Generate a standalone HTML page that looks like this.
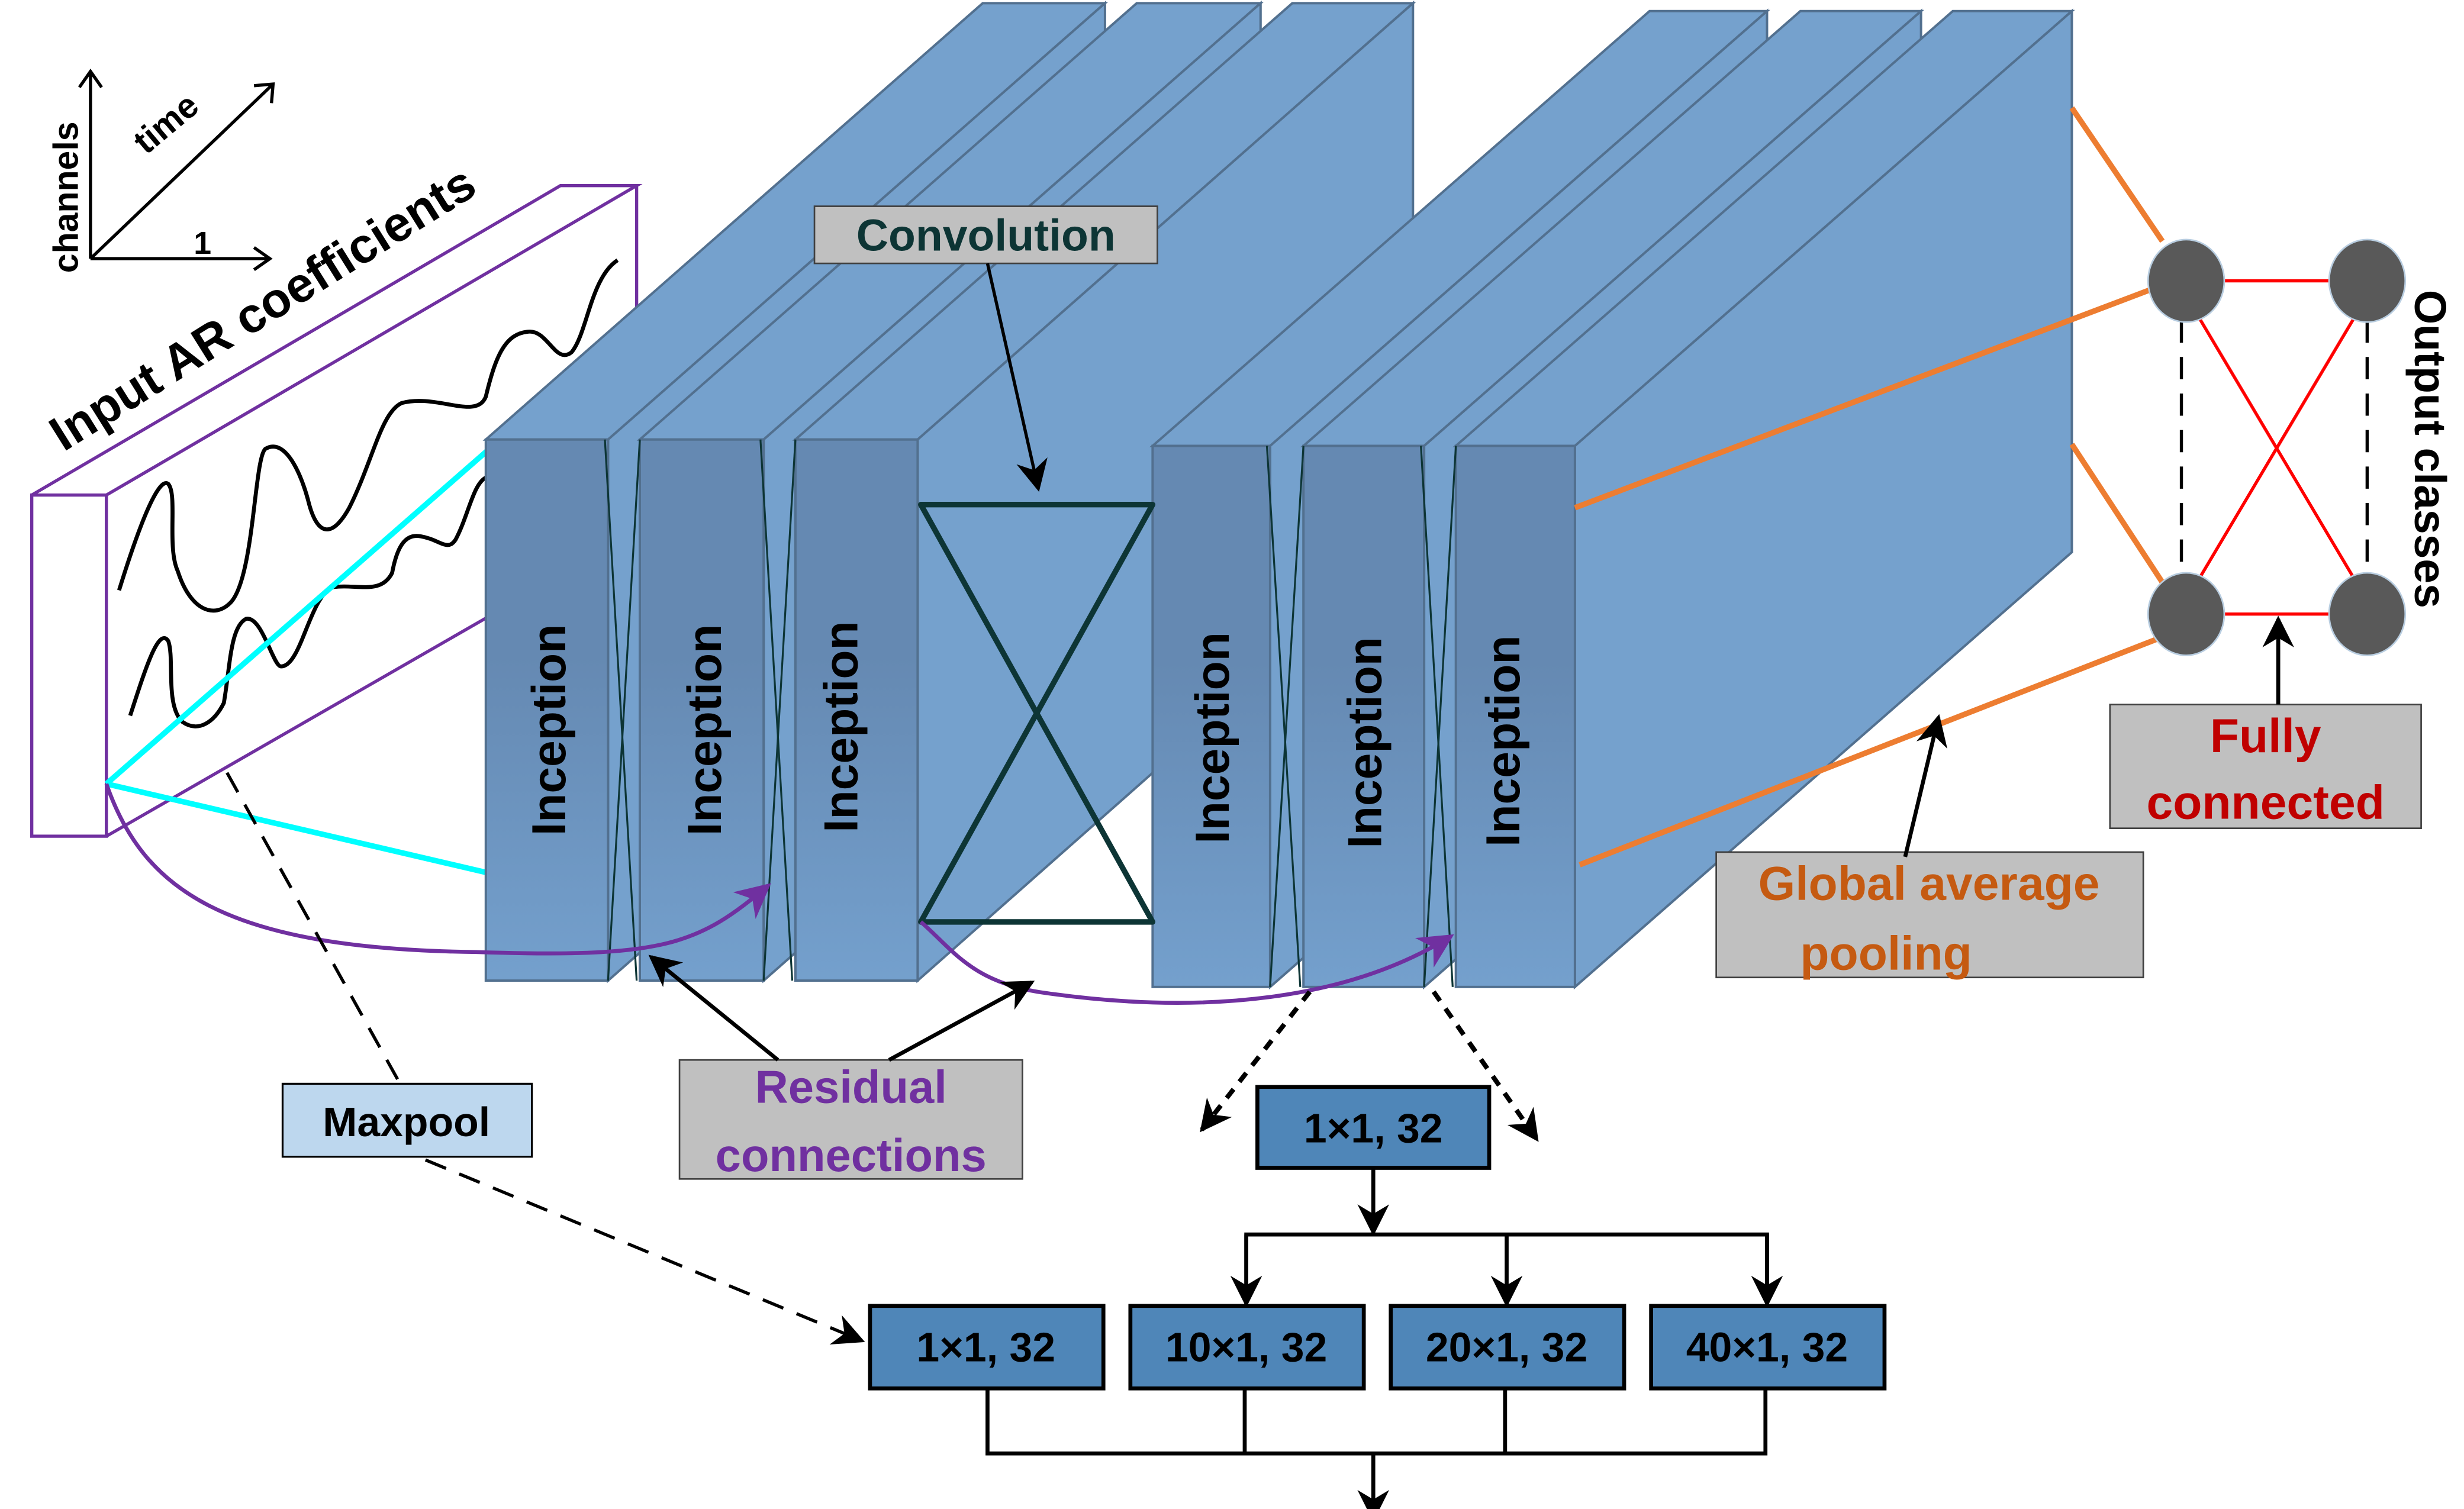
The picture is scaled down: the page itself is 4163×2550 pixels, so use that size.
<!DOCTYPE html>
<html><head><meta charset="utf-8"><style>
html,body{margin:0;padding:0;background:#fff;}
svg{display:block;}
text{font-family:"Liberation Sans Narrow","Liberation Sans",sans-serif;font-weight:bold;}
</style></head><body>
<svg width="4163" height="2550" viewBox="0 0 1552 951" preserveAspectRatio="none" xmlns="http://www.w3.org/2000/svg">
<defs>
<linearGradient id="fg" x1="0" y1="0" x2="0" y2="1">
<stop offset="0" stop-color="#6589b2"/><stop offset="0.4" stop-color="#6589b2"/><stop offset="1" stop-color="#74a0cd"/></linearGradient>
<marker id="ah" viewBox="0 0 10 10" refX="9" refY="5" markerWidth="7" markerHeight="7" orient="auto" markerUnits="userSpaceOnUse"><path d="M0,0 L10,5 L0,10 L3,5 z" fill="#000"/></marker>
<marker id="ahb" viewBox="0 0 10 10" refX="9" refY="5" markerWidth="22" markerHeight="20" orient="auto" markerUnits="userSpaceOnUse"><path d="M0,0 L10,5 L0,10 L3,5 z" fill="#000"/></marker>
<marker id="ahp" viewBox="0 0 10 10" refX="9" refY="5" markerWidth="26" markerHeight="22" orient="auto" markerUnits="userSpaceOnUse"><path d="M0,0 L10,5 L0,10 L3,5 z" fill="#7030a0"/></marker>
</defs>

<!-- axes -->
<g stroke="#000" stroke-width="2" fill="none">
<line x1="57" y1="163" x2="57" y2="45"/><polyline points="50,55 57,45 64,55"/>
<line x1="57" y1="163" x2="170" y2="163"/><polyline points="160,156 170,163 160,170"/>
<line x1="57" y1="163" x2="172" y2="53"/><polyline points="160,54 172,53 171,65"/>
</g>
<text transform="translate(49,172) rotate(-90)" font-size="22" font-weight="normal">channels</text>
<text transform="translate(92,98) rotate(-40)" font-size="22">time</text>
<text x="122" y="160" font-size="20" font-weight="normal">1</text>

<!-- input box -->
<g stroke="#7030a0" stroke-width="2" fill="none">
<polygon points="20,312 67,312 67,527 20,527"/>
<polyline points="20,312 353,117 401,117 67,312"/>
<line x1="401" y1="117" x2="401" y2="200"/>
<line x1="67" y1="527" x2="307" y2="389"/>
</g>
<text transform="translate(40,285) rotate(-32)" font-size="31">Input AR coefficients</text>
<g stroke="#000" stroke-width="2.5" fill="none">
<path d="M75,372 C88,330 100,300 106,305 C112,312 105,345 112,360 C120,385 135,390 145,380 C160,365 160,290 167,283 C180,275 190,300 194,315 C200,340 210,338 220,320 C235,290 240,260 253,254 C275,248 300,265 306,250 C312,225 318,210 333,209 C345,208 350,230 360,222 C370,210 372,175 389,164"/>
<path d="M82,451 C92,420 100,395 106,404 C110,415 104,445 115,455 C125,462 135,455 141,443 C145,420 145,395 155,390 C165,388 172,420 177,420 C190,420 195,375 210,370 C225,368 240,375 247,361 C250,345 255,336 265,338 C277,340 282,348 287,340 C295,325 298,305 306,301"/>
</g>
<line x1="67" y1="494" x2="307" y2="284" stroke="#00ffff" stroke-width="3.5"/>
<line x1="67" y1="494" x2="307" y2="550" stroke="#00ffff" stroke-width="3.5"/>

<!-- slabs group 1 -->
<g stroke="#52708f" stroke-width="1.5">
<polygon points="306,277 619,2 696,2 383,277" fill="#75a1cd"/>
<polygon points="383,277 696,2 696,342 383,618" fill="#75a1cd"/>
<rect x="306" y="277" width="77" height="341" fill="url(#fg)"/>
<polygon points="403,277 716,2 794,2 481,277" fill="#75a1cd"/>
<polygon points="481,277 794,2 794,342 481,618" fill="#75a1cd"/>
<rect x="403" y="277" width="78" height="341" fill="url(#fg)"/>
<polygon points="501,277 814,2 890,2 578,277" fill="#75a1cd"/>
<polygon points="578,277 890,2 890,342 578,618" fill="#75a1cd"/>
<rect x="501" y="277" width="77" height="341" fill="url(#fg)"/>
</g>
<!-- slabs group 2 -->
<g stroke="#52708f" stroke-width="1.5">
<polygon points="726,281 1039,7 1113,7 800,281" fill="#75a1cd"/>
<polygon points="800,281 1113,7 1113,348 800,622" fill="#75a1cd"/>
<rect x="726" y="281" width="74" height="341" fill="url(#fg)"/>
<polygon points="821,281 1134,7 1210,7 897,281" fill="#75a1cd"/>
<polygon points="897,281 1210,7 1210,348 897,622" fill="#75a1cd"/>
<rect x="821" y="281" width="76" height="341" fill="url(#fg)"/>
<polygon points="917,281 1230,7 1305,7 992,281" fill="#75a1cd"/>
<polygon points="992,281 1305,7 1305,348 992,622" fill="#75a1cd"/>
<rect x="917" y="281" width="75" height="341" fill="url(#fg)"/>
</g>
<!-- X lines between slabs -->
<g stroke="#0d3535" stroke-width="1.2">
<line x1="381" y1="277" x2="401" y2="618"/><line x1="403" y1="277" x2="383" y2="618"/>
<line x1="479" y1="277" x2="499" y2="618"/><line x1="501" y1="277" x2="481" y2="618"/>
<line x1="798" y1="281" x2="819" y2="622"/><line x1="821" y1="281" x2="800" y2="622"/>
<line x1="895" y1="281" x2="915" y2="622"/><line x1="917" y1="281" x2="897" y2="622"/>
</g>
<g font-size="30" fill="#000">
<text transform="translate(356,460) rotate(-90)" text-anchor="middle">Inception</text>
<text transform="translate(454,460) rotate(-90)" text-anchor="middle">Inception</text>
<text transform="translate(540,458) rotate(-90)" text-anchor="middle">Inception</text>
<text transform="translate(774,465) rotate(-90)" text-anchor="middle">Inception</text>
<text transform="translate(870,468) rotate(-90)" text-anchor="middle">Inception</text>
<text transform="translate(957,467) rotate(-90)" text-anchor="middle">Inception</text>
</g>
<!-- hourglass -->
<g stroke="#0d3535" stroke-width="3.5" fill="none" stroke-linejoin="round">
<polygon points="580,318 726,318 580,581 726,581"/>
</g>

<!-- convolution label -->
<rect x="513" y="130" width="216" height="36" fill="#c0c0c0" stroke="#404040" stroke-width="1"/>
<text x="621" y="158" font-size="28" fill="#0d3535" text-anchor="middle">Convolution</text>
<line x1="622" y1="166" x2="654" y2="308" stroke="#000" stroke-width="2" marker-end="url(#ahb)"/>

<!-- purple residual curves -->
<path d="M67,494 C90,560 140,598 300,600 C420,604 440,595 484,558" stroke="#7030a0" stroke-width="2.5" fill="none" marker-end="url(#ahp)"/>
<path d="M580,581 C600,598 612,620 660,626 C760,640 850,630 914,590" stroke="#7030a0" stroke-width="2.5" fill="none" marker-end="url(#ahp)"/>

<!-- maxpool -->
<line x1="143" y1="487" x2="252" y2="683" stroke="#000" stroke-width="2" stroke-dasharray="14,9"/>
<line x1="268" y1="731" x2="543" y2="845" stroke="#000" stroke-width="2" stroke-dasharray="14,9" marker-end="url(#ahb)"/>
<rect x="178" y="683" width="157" height="46" fill="#bdd7ee" stroke="#000" stroke-width="1.2"/>
<text x="256" y="716" font-size="26" text-anchor="middle">Maxpool</text>

<!-- residual label -->
<rect x="428" y="668" width="216" height="75" fill="#c0c0c0" stroke="#404040" stroke-width="1"/>
<text x="536" y="695" font-size="29" fill="#7030a0" text-anchor="middle">Residual</text>
<text x="536" y="738" font-size="29" fill="#7030a0" text-anchor="middle">connections</text>
<line x1="490" y1="668" x2="410" y2="603" stroke="#000" stroke-width="2.5" marker-end="url(#ahb)"/>
<line x1="560" y1="668" x2="650" y2="619" stroke="#000" stroke-width="2.5" marker-end="url(#ahb)"/>

<!-- dotted arrows to inception detail -->
<line x1="825" y1="625" x2="757" y2="712" stroke="#000" stroke-width="3" stroke-dasharray="7,6" marker-end="url(#ahb)"/>
<line x1="903" y1="625" x2="968" y2="718" stroke="#000" stroke-width="3" stroke-dasharray="7,6" marker-end="url(#ahb)"/>

<!-- inception module detail -->
<g fill="#4f86b8" stroke="#000" stroke-width="2.5">
<rect x="792" y="685" width="146" height="51"/>
<rect x="548" y="823" width="147" height="52"/>
<rect x="712" y="823" width="147" height="52"/>
<rect x="876" y="823" width="147" height="52"/>
<rect x="1040" y="823" width="147" height="52"/>
</g>
<g font-size="26" text-anchor="middle" fill="#000">
<text x="865" y="720">1×1, 32</text>
<text x="621" y="858">1×1, 32</text>
<text x="785" y="858">10×1, 32</text>
<text x="949" y="858">20×1, 32</text>
<text x="1113" y="858">40×1, 32</text>
</g>
<g stroke="#000" stroke-width="2.5" fill="none">
<line x1="865" y1="736" x2="865" y2="777" marker-end="url(#ahb)"/>
<polyline points="785,820 785,778 1113,778 1113,820"/>
<line x1="785" y1="778" x2="785" y2="822" marker-end="url(#ahb)"/>
<line x1="949" y1="778" x2="949" y2="822" marker-end="url(#ahb)"/>
<line x1="1113" y1="778" x2="1113" y2="822" marker-end="url(#ahb)"/>
<polyline points="622,875 622,916 1112,916 1112,875"/>
<line x1="784" y1="875" x2="784" y2="916"/>
<line x1="948" y1="875" x2="948" y2="916"/>
<line x1="865" y1="916" x2="865" y2="957" marker-end="url(#ahb)"/>
</g>

<!-- orange pooling lines -->
<g stroke="#ed7d31" stroke-width="3.5">
<line x1="1305" y1="68" x2="1362" y2="152"/>
<line x1="992" y1="320" x2="1356" y2="182"/>
<line x1="1305" y1="280" x2="1362" y2="367"/>
<line x1="995" y1="545" x2="1358" y2="403"/>
</g>
<!-- FC -->
<g stroke="#ff0000" stroke-width="2">
<line x1="1400" y1="177" x2="1468" y2="177"/>
<line x1="1400" y1="387" x2="1468" y2="387"/>
<line x1="1385" y1="200" x2="1483" y2="365"/>
<line x1="1483" y1="200" x2="1385" y2="365"/>
</g>
<g stroke="#000" stroke-width="2" stroke-dasharray="14,9">
<line x1="1374" y1="202" x2="1374" y2="362"/>
<line x1="1491" y1="202" x2="1491" y2="362"/>
</g>
<g fill="#595959" stroke="#b8cde0" stroke-width="1">
<ellipse cx="1377" cy="177" rx="24" ry="26"/>
<ellipse cx="1491" cy="177" rx="24" ry="26"/>
<ellipse cx="1377" cy="387" rx="24" ry="26"/>
<ellipse cx="1491" cy="387" rx="24" ry="26"/>
</g>
<text transform="translate(1521,283) rotate(90)" font-size="28" text-anchor="middle">Output classes</text>

<rect x="1329" y="444" width="196" height="78" fill="#c0c0c0" stroke="#404040" stroke-width="1"/>
<text x="1427" y="474" font-size="30" fill="#c00000" text-anchor="middle">Fully</text>
<text x="1427" y="516" font-size="30" fill="#c00000" text-anchor="middle">connected</text>
<line x1="1435" y1="444" x2="1435" y2="390" stroke="#000" stroke-width="2.5" marker-end="url(#ahb)"/>

<rect x="1081" y="537" width="269" height="79" fill="#c0c0c0" stroke="#404040" stroke-width="1"/>
<text x="1215" y="567" font-size="30" fill="#c55a11" text-anchor="middle">Global average</text>
<text x="1188" y="611" font-size="30" fill="#c55a11" text-anchor="middle">pooling</text>
<line x1="1200" y1="540" x2="1221" y2="452" stroke="#000" stroke-width="2.5" marker-end="url(#ahb)"/>
</svg>
</body></html>
